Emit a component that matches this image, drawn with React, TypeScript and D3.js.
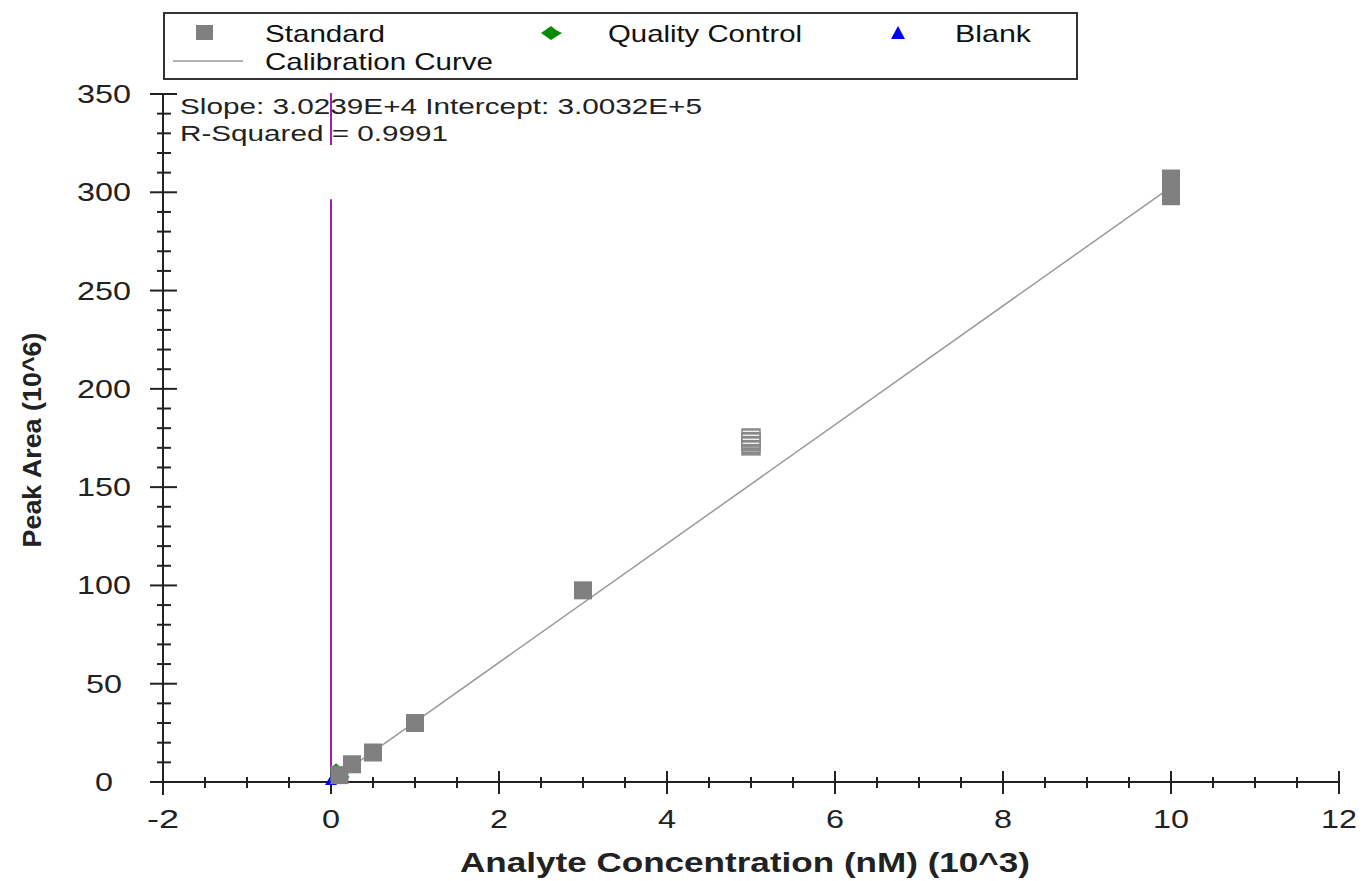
import React from "react";
import * as d3 from "d3";

// ---- data (x in 10^3 nM, y in 10^6 area) ----
const standardX = [0.1, 0.25, 0.5, 1, 3, 10, 10, 10];
const standardY = [3.5, 9, 15, 30, 97.5, 298, 302, 307];
const excludedX = [5, 5, 5];
const excludedY = [171, 173, 175];
const qcX = [0.06, 0.15];
const qcY = [7, 2.5];
const blankX = [0];
const blankY = [0.5];
const slope = 30.239;
const intercept = 0.30032;
const curveX = [0, 10.1];
const markerLineX = 0;
const markerSegments: [number, number][] = [[350.5, 324], [296.5, 0]];
const xTicks = [-2, 0, 2, 4, 6, 8, 10, 12];
const yTicks = [0, 50, 100, 150, 200, 250, 300, 350];
const legendItems = ["Standard", "Quality Control", "Blank", "Calibration Curve"];
const annotation = ["Slope: 3.0239E+4 Intercept: 3.0032E+5", "R-Squared = 0.9991"];

const W = 1364, H = 881;
const FONT = "'Liberation Sans', Arial, sans-serif";
const DIGIT_W = 18;

export default function App() {
  const x = d3.scaleLinear().domain([-2, 12]).range([163, 1339]);
  const y = d3.scaleLinear().domain([0, 350]).range([782, 94]);
  const xMinor = d3.range(-2, 12.001, 0.5).filter((v) => !xTicks.includes(v));
  const yMinor = d3.range(0, 350.001, 10).filter((v) => !yTicks.includes(v));
  const line = d3.line<number>().x((d) => x(d)).y((d) => y(slope * d + intercept));
  const sq = 18;
  const axisColor = "#222";
  const tickLen = (t: number) => String(t).length * DIGIT_W - (String(t).startsWith("-") ? 4 : 0);

  return (
    <svg width={W} height={H} style={{ position: "absolute", left: 0, top: 0, background: "#fff" }} fontFamily={FONT}>
      <defs>
        <pattern id="stripes" width="4" height="4" patternUnits="userSpaceOnUse">
          <rect width="4" height="4" fill="#888" />
          <rect y="2.6" width="4" height="1.4" fill="#eee" />
        </pattern>
      </defs>

      {/* Legend */}
      <rect x={164} y={13} width={913} height={66} fill="#fff" stroke="#333" strokeWidth={2} />
      <rect x={196} y={25} width={17} height={15} fill="#808080" />
      <text x={265} y={42} fontSize={24} fill="#111" textLength={120} lengthAdjust="spacingAndGlyphs">{legendItems[0]}</text>
      <path d="M541,33 L551,26 L556,30 L562,33 L551,40 Z" fill="#0a8a0a" />
      <text x={608} y={42} fontSize={24} fill="#111" textLength={194} lengthAdjust="spacingAndGlyphs">{legendItems[1]}</text>
      <path d="M898,26 L905,39 L891,39 Z" fill="#0000ff" />
      <text x={955} y={42} fontSize={24} fill="#111" textLength={76} lengthAdjust="spacingAndGlyphs">{legendItems[2]}</text>
      <line x1={173} x2={243} y1={61} y2={61} stroke="#999" strokeWidth={1.5} />
      <text x={265} y={70} fontSize={24} fill="#111" textLength={228} lengthAdjust="spacingAndGlyphs">{legendItems[3]}</text>

      {/* calibration curve */}
      <path d={line(curveX) || ""} stroke="#9a9a9a" strokeWidth={1.5} fill="none" />

      {/* vertical marker at x = 0 */}
      {markerSegments.map(([a, b], i) => (
        <line key={i} x1={x(markerLineX)} x2={x(markerLineX)} y1={y(a)} y2={y(b)} stroke="#a020a8" strokeWidth={2} />
      ))}

      {/* annotation */}
      <text x={180} y={114} fontSize={22} fill="#222" textLength={522} lengthAdjust="spacingAndGlyphs">{annotation[0]}</text>
      <text x={180} y={141} fontSize={22} fill="#222" textLength={268} lengthAdjust="spacingAndGlyphs">{annotation[1]}</text>

      {/* axes */}
      <line x1={x(-2)} x2={x(-2)} y1={y(350)} y2={795} stroke={axisColor} strokeWidth={2} />
      <line x1={152} x2={x(12)} y1={y(0)} y2={y(0)} stroke={axisColor} strokeWidth={2} />
      {yTicks.map((t) => (
        <g key={"yt" + t}>
          <line x1={150} x2={177} y1={y(t)} y2={y(t)} stroke={axisColor} strokeWidth={2} />
          <text x={104} y={y(t) + 9} fontSize={25} textAnchor="middle" fill="#222" textLength={tickLen(t)} lengthAdjust="spacingAndGlyphs">{t}</text>
        </g>
      ))}
      {yMinor.map((t) => (
        <line key={"ym" + t} x1={157} x2={171} y1={y(t)} y2={y(t)} stroke={axisColor} strokeWidth={2} />
      ))}
      {xTicks.map((t) => (
        <g key={"xt" + t}>
          <line x1={x(t)} x2={x(t)} y1={771} y2={794} stroke={axisColor} strokeWidth={2} />
          <text x={x(t)} y={828} fontSize={25} textAnchor="middle" fill="#222" textLength={tickLen(t)} lengthAdjust="spacingAndGlyphs">{t}</text>
        </g>
      ))}
      {xMinor.map((t) => (
        <line key={"xm" + t} x1={x(t)} x2={x(t)} y1={777} y2={788} stroke={axisColor} strokeWidth={2} />
      ))}

      {/* blank */}
      {blankX.map((v, i) => (
        <path key={"b" + i} d={`M${x(v)},${y(blankY[i]) - 6} L${x(v) + 6},${y(blankY[i]) + 4} L${x(v) - 6},${y(blankY[i]) + 4} Z`} fill="#0000ff" />
      ))}
      {/* QC */}
      {qcX.map((v, i) => (
        <path key={"q" + i} d={`M${x(v) - 6},${y(qcY[i])} L${x(v)},${y(qcY[i]) - 5} L${x(v) + 6},${y(qcY[i])} L${x(v)},${y(qcY[i]) + 5} Z`} fill="#2a8a2a" />
      ))}
      {/* standards */}
      {standardX.map((v, i) => (
        <rect key={"s" + i} x={x(v) - sq / 2} y={y(standardY[i]) - sq / 2} width={sq} height={sq} fill="#808080" />
      ))}
      {/* excluded standards */}
      {excludedX.map((v, i) => (
        <rect key={"e" + i} x={x(v) - 9} y={y(excludedY[i]) - 9} width={18} height={18} fill="url(#stripes)" stroke="#888" strokeWidth={1.5} />
      ))}

      {/* axis titles */}
      <text x={745} y={872} fontSize={27} fontWeight="bold" textAnchor="middle" fill="#222" textLength={570} lengthAdjust="spacingAndGlyphs">
        Analyte Concentration (nM) (10^3)
      </text>
      <text transform="translate(41,440) rotate(-90)" fontSize={26} fontWeight="bold" textAnchor="middle" fill="#222" textLength={215} lengthAdjust="spacingAndGlyphs">
        Peak Area (10^6)
      </text>
    </svg>
  );
}
